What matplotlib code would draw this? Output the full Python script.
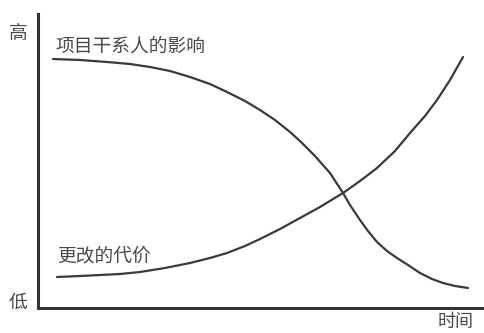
import matplotlib.pyplot as plt

plt.rcParams['font.family'] = ['Noto Sans CJK SC', 'DejaVu Sans']

# stakeholder influence curve (time, level)
infl_t = [15, 42, 69, 92, 112, 132, 152, 172, 189, 207, 222, 237, 252, 262,
          277, 292, 305, 312, 322, 330, 339, 349, 359, 370, 382, 394, 405,
          417, 430]
infl_v = [249, 248, 246, 244, 241, 237, 231, 224, 216, 207, 198, 188, 176, 167,
          152, 135, 115, 103, 88, 77, 66, 57, 50, 43, 35, 29, 25, 22, 20]

# cost of change curve
cost_t = [19, 42, 62, 82, 102, 127, 152, 172, 189, 207, 222, 242, 262, 282,
          305, 322, 339, 357, 372, 387, 399, 412, 425]
cost_v = [31, 32, 33, 34, 36, 40, 45, 50, 55, 62, 69, 79, 90, 101, 115, 127,
          140, 157, 175, 192, 208, 228, 251]

W, H = 485, 333
fig = plt.figure(figsize=(W / 100, H / 100), dpi=100)
ax = fig.add_axes([38 / W, (H - 308) / H, (482 - 38) / W, (308 - 14) / H])
ax.set_xlim(0, 444)
ax.set_ylim(0, 294)

line_col = '#3a3a3a'
ax.plot(infl_t, infl_v, color=line_col, lw=1.6, solid_capstyle='round',
        solid_joinstyle='round')
ax.plot(cost_t, cost_v, color=line_col, lw=1.6, solid_capstyle='round',
        solid_joinstyle='round')

for s in ['top', 'right']:
    ax.spines[s].set_visible(False)
for s in ['left', 'bottom']:
    ax.spines[s].set_linewidth(2.2)
    ax.spines[s].set_color('#333333')
ax.set_xticks([])
ax.set_yticks([])

txt = '#4a4a4a'
fs = 13.5
fig.text(55 / W, 1 - 46 / H, '项目干系人的影响', fontsize=fs, color=txt, va='center', ha='left')
fig.text(57 / W, 1 - 256 / H, '更改的代价', fontsize=fs, color=txt, va='center', ha='left')
fig.text(18 / W, 1 - 34 / H, '高', fontsize=fs, color=txt, va='center', ha='center')
fig.text(18 / W, 1 - 302 / H, '低', fontsize=fs, color=txt, va='center', ha='center')
fig.text(456 / W, 1 - 322 / H, '时间', fontsize=13, color=txt, va='center', ha='center')

fig.savefig('out.png', dpi=100)
